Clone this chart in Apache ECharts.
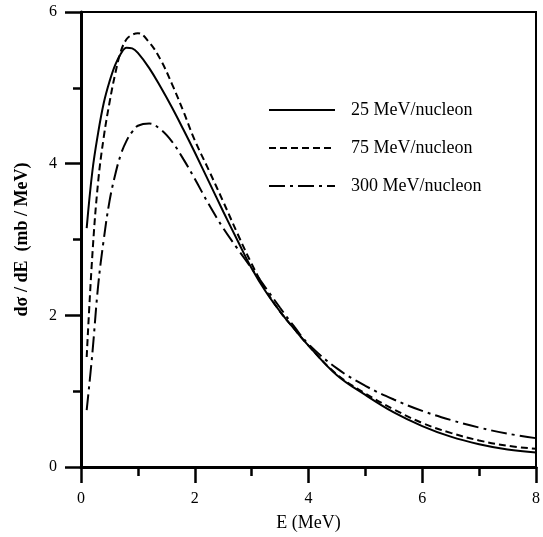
<!DOCTYPE html>
<html>
<head>
<meta charset="utf-8">
<script src="https://cdn.jsdelivr.net/npm/echarts@6/dist/echarts.min.js"></script>
<style>
html,body{margin:0;padding:0;background:#fff;}
#chart{width:543px;height:537px;}
</style>
</head>
<body>
<div id="chart"></div>
<script>
// Energy grid (MeV)
const energy = [0.1,0.2,0.3,0.4,0.5,0.6,0.7,0.8,0.9,1.0,1.2,1.4,1.6,1.8,2.0,2.25,2.5,2.75,3.0,3.25,3.5,3.75,4.0,4.5,5.0,5.5,6.0,6.5,7.0,7.5,8.0];
// dσ/dE (mb/MeV)
const mev25  = [3.15,3.9,4.4,4.8,5.08,5.3,5.45,5.53,5.52,5.46,5.26,5.01,4.74,4.45,4.15,3.76,3.37,2.99,2.62,2.31,2.05,1.82,1.6,1.21,0.95,0.72,0.54,0.40,0.30,0.23,0.19];
const mev75  = [1.45,2.8,3.75,4.35,4.8,5.18,5.48,5.64,5.7,5.72,5.6,5.37,5.05,4.69,4.31,3.91,3.5,3.08,2.68,2.33,2.05,1.82,1.6,1.22,0.97,0.76,0.58,0.45,0.35,0.28,0.24];
const mev300 = [0.75,1.5,2.38,3.0,3.5,3.85,4.12,4.3,4.42,4.5,4.53,4.45,4.29,4.06,3.8,3.46,3.15,2.88,2.62,2.36,2.1,1.85,1.62,1.3,1.07,0.89,0.74,0.62,0.52,0.44,0.38];
const seriesNames = ['25 MeV/nucleon','75 MeV/nucleon','300 MeV/nucleon'];
const xTickLabels = ['0','2','4','6','8'];
const yTickLabels = ['0','2','4','6'];

const pairs = ys => energy.map((x,i)=>[x, ys[i]]);
const font = '"Liberation Serif", "DejaVu Serif", serif';

const chart = echarts.init(document.getElementById('chart'), null, {renderer:'canvas'});
const mkSeries = (name, ys, type) => ({
  name, type:'line', data: pairs(ys), smooth:0.4, showSymbol:false, symbol:'none',
  lineStyle:{color:'#000', width:2, type}, itemStyle:{color:'#000'}, animation:false
});
chart.setOption({
  animation:false,
  backgroundColor:'#fff',
  grid:{left:81, right:2, top:12, bottom:66, show:true, borderColor:'#000', borderWidth:2},
  legend:{
    orient:'vertical', left:263, top:96, itemWidth:66, itemHeight:14, itemGap:20,
    data: seriesNames,
    itemStyle:{opacity:0},
    textStyle:{fontFamily:font, fontSize:18, color:'#000', padding:[0,0,0,11]}
  },
  xAxis:{
    type:'value', min:0, max:8, interval:2,
    name:'E (MeV)', nameLocation:'middle', nameGap:47,
    nameTextStyle:{fontFamily:font, fontSize:18, color:'#000'},
    axisLine:{show:true, onZero:false, lineStyle:{color:'#000', width:3}},
    axisTick:{show:true, inside:false, length:16, lineStyle:{color:'#000', width:2.5}},
    minorTick:{show:true, splitNumber:2, length:9, lineStyle:{color:'#000', width:2.5}},
    splitLine:{show:false},
    axisLabel:{fontFamily:font, fontSize:16, color:'#000', margin:24,
      formatter: v => xTickLabels[Math.round(v/2)]}
  },
  yAxis:{
    type:'value', min:0, max:6, interval:2,
    name:'dσ / dE  (mb / MeV)', nameLocation:'middle', nameGap:50, nameRotate:90,
    nameTextStyle:{fontFamily:font, fontSize:18, color:'#000', fontWeight:'bold'},
    axisLine:{show:true, onZero:false, lineStyle:{color:'#000', width:3}},
    axisTick:{show:true, inside:false, length:16, lineStyle:{color:'#000', width:2.5}},
    minorTick:{show:true, splitNumber:2, length:8, lineStyle:{color:'#000', width:2.5}},
    splitLine:{show:false},
    axisLabel:{fontFamily:font, fontSize:16, color:'#000', margin:24,
      formatter: v => yTickLabels[Math.round(v/2)]}
  },
  series:[
    mkSeries(seriesNames[0], mev25, 'solid'),
    mkSeries(seriesNames[1], mev75, [7,4]),
    mkSeries(seriesNames[2], mev300, [16,5,3,5])
  ]
});
</script>
</body>
</html>
